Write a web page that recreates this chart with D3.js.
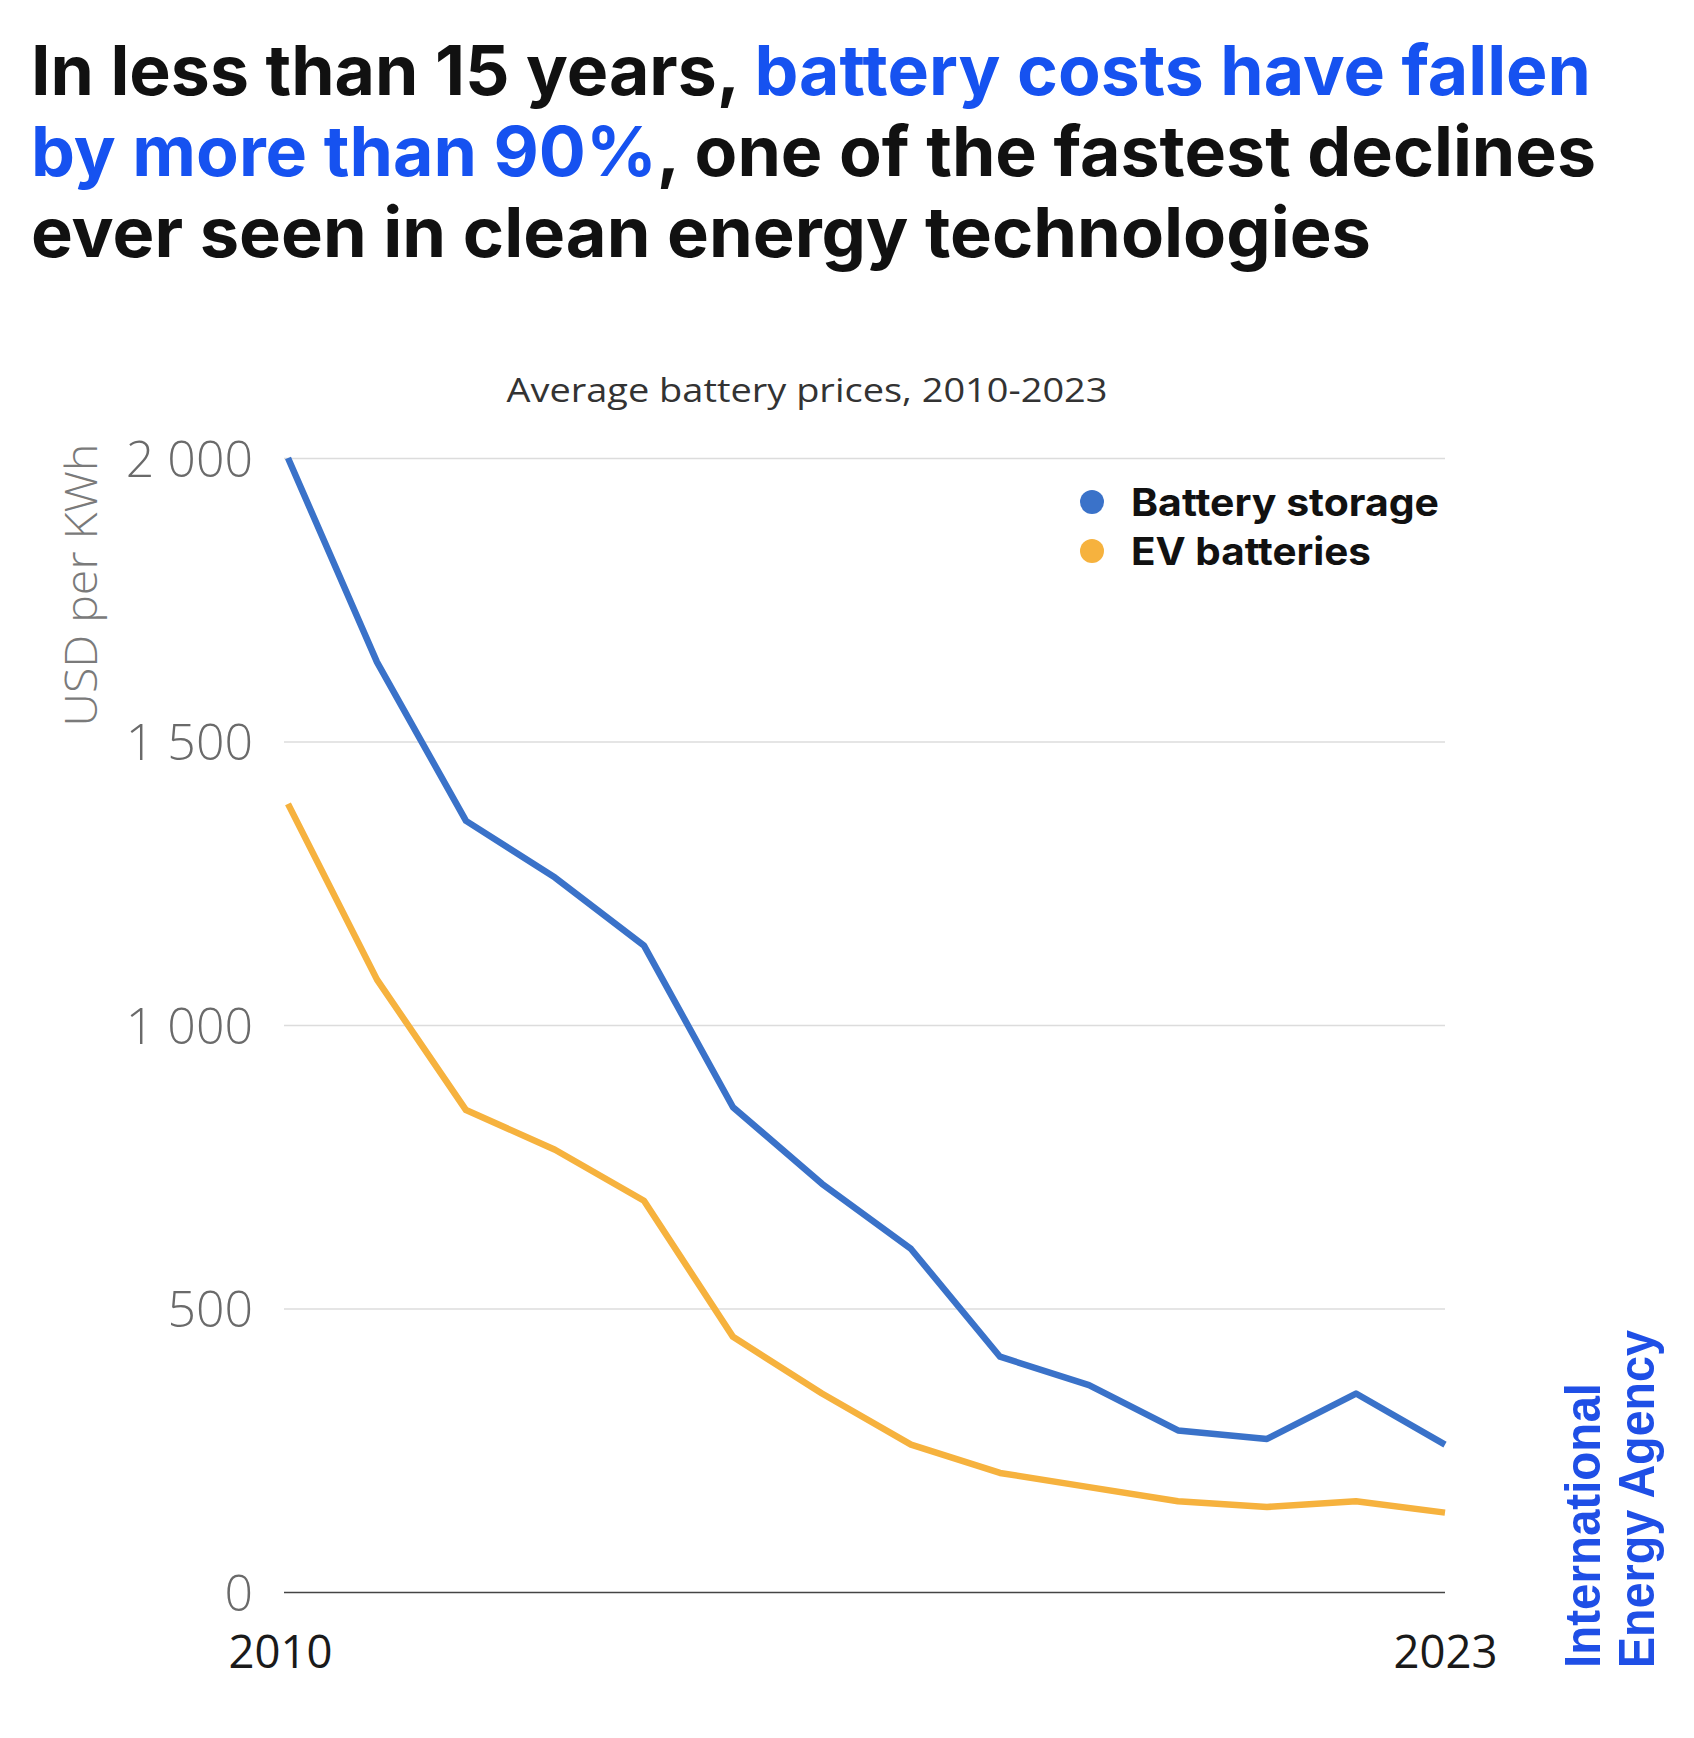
<!DOCTYPE html>
<html><head><meta charset="utf-8">
<script src="https://cdn.jsdelivr.net/npm/d3@7"></script>
<style>body{margin:0;background:#fff}svg{display:block}</style>
</head><body>
<script>
const years = [2010,2011,2012,2013,2014,2015,2016,2017,2018,2019,2020,2021,2022,2023];
const batteryStorage = [2000,1640,1360,1260,1140,855,720,605,415,365,285,270,350,260];
const evBatteries = [1390,1080,850,780,690,450,350,260,210,185,160,150,160,140];
const seriesNames = ["Battery storage","EV batteries"];
const seriesColors = ["#3a72c9","#f6b23e"];
const yTicks = [0,500,1000,1500,2000];
const yTickLabels = ["0","500","1 000","1 500","2 000"];
const xTickYears = [2010,2023];
const titleLines = [
  [["In less than 15 years, ","#111"],["battery costs have fallen","#1652f0"]],
  [["by more than 90%","#1652f0"],[", one of the fastest declines","#111"]],
  [["ever seen in clean energy technologies","#111"]]
];
const subtitle = "Average battery prices, 2010-2023";
const yLabel = "USD per KWh";
const logoLines = ["International","Energy Agency"];

const W=1694,H=1738;
const svg=d3.select("body").append("svg").attr("width",W).attr("height",H);

// Title
const titleBase=[95,176,257], titleWidths=[1560,1565,1340];
titleLines.forEach((parts,i)=>{
  const t=svg.append("text").attr("x",31).attr("y",titleBase[i])
    .attr("font-family","Inter, 'DejaVu Sans', sans-serif").attr("font-weight",700)
    .attr("font-size",69).attr("textLength",titleWidths[i]).attr("lengthAdjust","spacingAndGlyphs");
  parts.forEach(p=>t.append("tspan").attr("fill",p[1]).text(p[0]));
});

const x=d3.scaleLinear().domain([2010,2023]).range([288,1445]);
const y=d3.scaleLinear().domain([0,2000]).range([1592,458]);

// subtitle
svg.append("text").attr("x",807).attr("y",402).attr("text-anchor","middle")
  .attr("font-family","'Open Sans', sans-serif").attr("font-size",33).attr("fill","#333")
  .attr("textLength",601).attr("lengthAdjust","spacingAndGlyphs").text(subtitle);

// gridlines
const yAxis=d3.axisLeft(y).tickValues(yTicks).tickSize(-(1445-284)).tickFormat((d,i)=>yTickLabels[i]).tickPadding(31);
const gy=svg.append("g").attr("transform","translate(284,0)").call(yAxis);
gy.select(".domain").remove();
gy.selectAll(".tick line").attr("stroke",d=>d===0?"#444":"#dcdcdc").attr("stroke-width",d=>d===0?1.6:1.4);
gy.selectAll(".tick text").attr("font-family","'Open Sans', sans-serif").attr("font-weight",300)
  .attr("font-size",50).attr("fill","#6a6a6a").attr("dy","0.36em");

// y label
svg.append("text").attr("transform","translate(97,585) rotate(-90)").attr("text-anchor","middle")
  .attr("font-family","'Open Sans', sans-serif").attr("font-weight",300).attr("font-size",44)
  .attr("fill","#7a7a7a").attr("textLength",283).attr("lengthAdjust","spacingAndGlyphs").text(yLabel);

// x labels
const xAxis=d3.axisBottom(x).tickValues(xTickYears).tickSize(0).tickFormat(d3.format("d")).tickPadding(0);
const gx=svg.append("g").attr("transform","translate(0,1668)").call(xAxis);
gx.select(".domain").remove();
gx.selectAll(".tick text").attr("font-family","'Open Sans', sans-serif").attr("font-size",45)
  .attr("fill","#1a1a1a").attr("dy",0).attr("dx",d=>d===2010?-8:0)
  .attr("textLength",104).attr("lengthAdjust","spacingAndGlyphs");

// lines
const line=d3.line().x((d,i)=>x(years[i])).y(d=>y(d));
[batteryStorage,evBatteries].forEach((s,i)=>{
  svg.append("path").datum(s).attr("d",line).attr("fill","none")
    .attr("stroke",seriesColors[i]).attr("stroke-width",6.5).attr("stroke-linejoin","round");
});

// legend
const legY=[502,551], legW=[308,240];
seriesNames.forEach((n,i)=>{
  svg.append("circle").attr("cx",1092).attr("cy",legY[i]).attr("r",12).attr("fill",seriesColors[i]);
  svg.append("text").attr("x",1131).attr("y",legY[i]+14).attr("font-family","Inter, sans-serif")
    .attr("font-weight",700).attr("font-size",38).attr("fill","#111")
    .attr("textLength",legW[i]).attr("lengthAdjust","spacingAndGlyphs").text(n);
});

// logo
const logo=svg.append("text").attr("transform","translate(1600,1668) rotate(-90)")
  .attr("font-family","'Liberation Sans', Arial, sans-serif").attr("font-weight",700)
  .attr("font-size",50).attr("fill","#1f4fe6");
logo.append("tspan").attr("x",0).attr("y",0).attr("textLength",285).attr("lengthAdjust","spacingAndGlyphs").text(logoLines[0]);
logo.append("tspan").attr("x",0).attr("y",54).attr("textLength",338).attr("lengthAdjust","spacingAndGlyphs").text(logoLines[1]);
</script>
</body></html>
